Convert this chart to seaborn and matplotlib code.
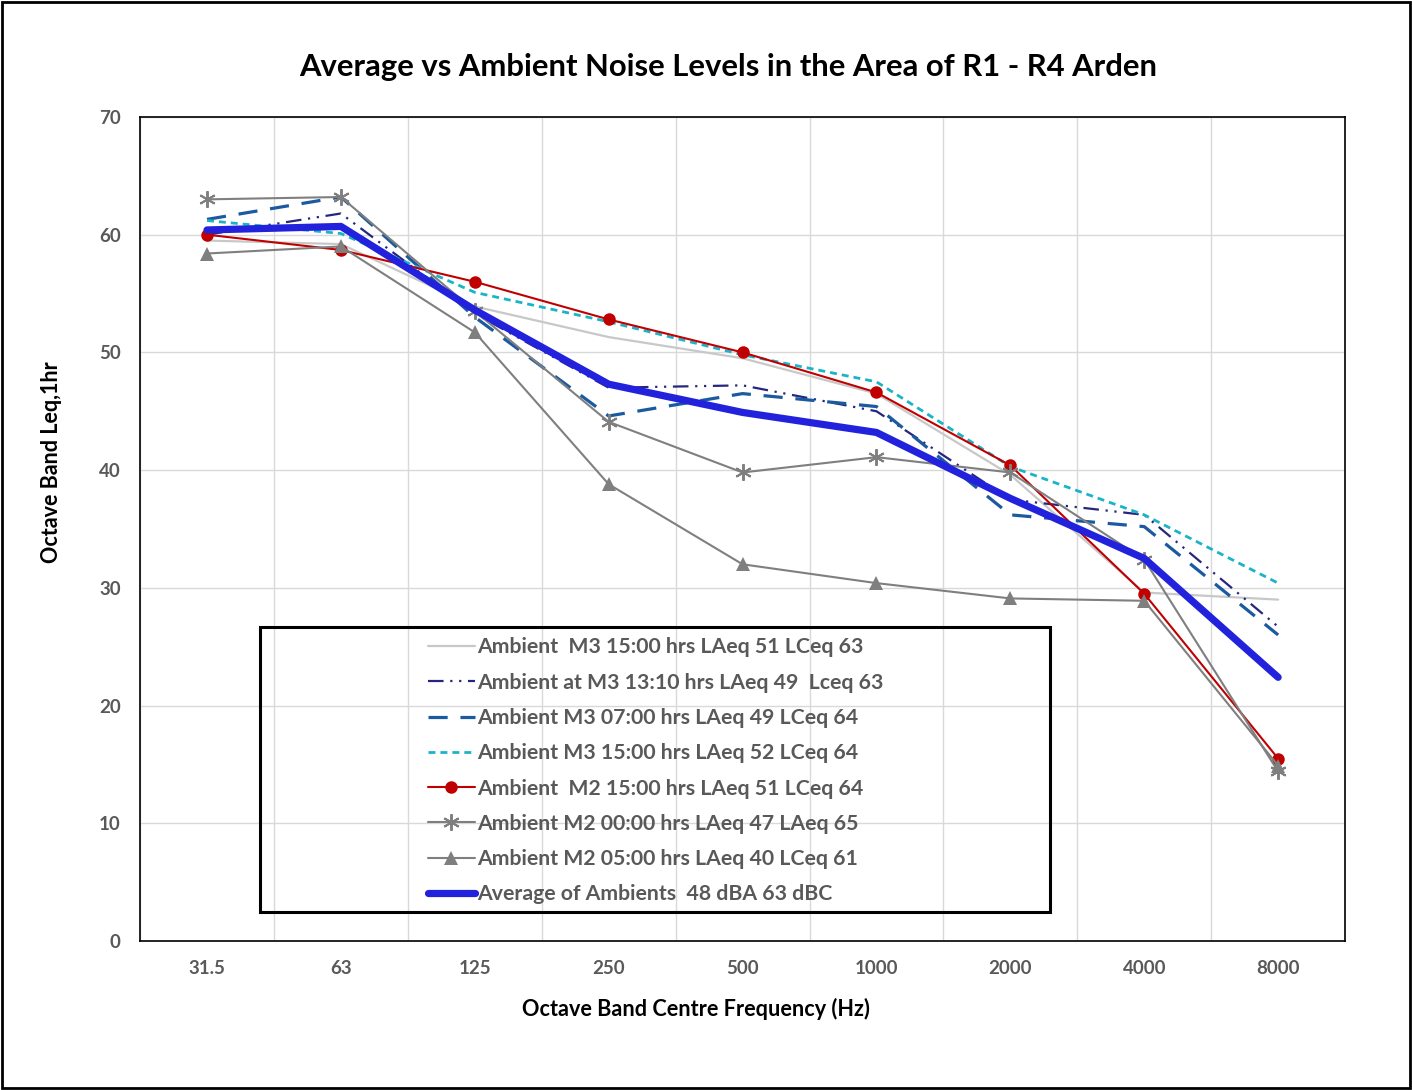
import numpy as np
import seaborn as sns
import matplotlib.pyplot as plt
from matplotlib.patches import Rectangle

# Octave band centre frequencies (x categories)
freqs = ['31.5', '63', '125', '250', '500', '1000', '2000', '4000', '8000']

# Levels (dB)
m3_1500_a = [59.5, 59.2, 53.9, 51.3, 49.5, 46.5, 39.6, 29.6, 29.0]
m3_1310 = [60.0, 61.8, 53.3, 47.0, 47.2, 45.0, 37.5, 36.2, 26.7]
m3_0700 = [61.3, 63.2, 53.0, 44.6, 46.5, 45.4, 36.2, 35.2, 26.0]
m3_1500_b = [61.2, 60.1, 55.1, 52.6, 49.8, 47.5, 40.3, 36.2, 30.4]
m2_1500 = [60.0, 58.7, 56.0, 52.8, 50.0, 46.6, 40.4, 29.5, 15.5]
m2_0000 = [63.0, 63.2, 53.5, 44.1, 39.8, 41.1, 39.8, 32.4, 14.4]
m2_0500 = [58.4, 59.0, 51.7, 38.8, 32.0, 30.4, 29.1, 28.9, 14.9]
average = [60.4, 60.7, 53.6, 47.3, 44.9, 43.2, 37.6, 32.5, 22.4]

labels = [
    'Ambient  M3 15:00 hrs LAeq 51 LCeq 63',
    'Ambient at M3 13:10 hrs LAeq 49  Lceq 63',
    'Ambient M3 07:00 hrs LAeq 49 LCeq 64',
    'Ambient M3 15:00 hrs LAeq 52 LCeq 64',
    'Ambient  M2 15:00 hrs LAeq 51 LCeq 64',
    'Ambient M2 00:00 hrs LAeq 47 LAeq 65',
    'Ambient M2 05:00 hrs LAeq 40 LCeq 61',
    'Average of Ambients  48 dBA 63 dBC',
]

sns.set_style('white')
plt.rcParams['font.family'] = ['Lato', 'DejaVu Sans']

fig = plt.figure(figsize=(14.12, 10.9), dpi=100)
ax = fig.add_axes([0.0992, 0.1367, 0.8534, 0.756])
x = np.arange(len(freqs))

common = dict(ax=ax, sort=False, errorbar=None)
sns.lineplot(x=x, y=m3_1500_a, color='#c8c8c8', linewidth=1.6, label=labels[0], **common)
sns.lineplot(x=x, y=m3_1310, color='#26267e', linewidth=1.6,
             linestyle=(0, (7, 3, 1, 3, 1, 3)), label=labels[1], **common)
sns.lineplot(x=x, y=m3_0700, color='#1b5aa0', linewidth=2.3,
             linestyle=(0, (6, 4)), label=labels[2], **common)
sns.lineplot(x=x, y=m3_1500_b, color='#1ab4c8', linewidth=2.0,
             linestyle=(0, (2.5, 1.8)), label=labels[3], **common)
sns.lineplot(x=x, y=m2_1500, color='#c00000', linewidth=1.5, marker='o',
             markersize=9, markeredgewidth=0, label=labels[4], **common)
sns.lineplot(x=x, y=m2_0000, color='#7f7f7f', linewidth=1.5, marker=(6, 2, 0),
             markersize=12, markeredgewidth=1.4, markeredgecolor='#7f7f7f',
             label=labels[5], **common)
sns.lineplot(x=x, y=m2_0500, color='#7f7f7f', linewidth=1.5, marker='^',
             markersize=10, markeredgewidth=0, label=labels[6], **common)
sns.lineplot(x=x, y=average, color='#2222dd', linewidth=5.2,
             solid_capstyle='round', label=labels[7], **common)

ax.set_xlim(-0.5, len(freqs) - 0.5)
ax.set_ylim(0, 70)
ax.set_xticks(x)
ax.set_xticklabels(freqs)
ax.set_xticks(np.arange(-0.5, len(freqs), 1), minor=True)
ax.set_yticks(np.arange(0, 71, 10))
ax.grid(False)
ax.grid(True, which='minor', axis='x', color='#d9d9d9', linewidth=1)
ax.grid(True, which='major', axis='y', color='#d9d9d9', linewidth=1)
ax.set_axisbelow(True)
ax.tick_params(which='both', length=0)
ax.tick_params(axis='x', pad=14)
ax.tick_params(axis='y', pad=14)
for lab in ax.get_xticklabels() + ax.get_yticklabels():
    lab.set_color('#595959')
    lab.set_fontweight('bold')
    lab.set_fontsize(13.5)
for sp in ax.spines.values():
    sp.set_color('black')
    sp.set_linewidth(1.2)
ax.set_xlabel('')
ax.set_ylabel('')

fig.text(0.5156, 0.9385, 'Average vs Ambient Noise Levels in the Area of R1 - R4 Arden',
         ha='center', va='center', fontsize=22.3, fontweight='bold', color='black')
fig.text(0.0365, 0.576, 'Octave Band Leq,1hr', rotation=90, ha='center', va='center',
         fontsize=15.5, fontweight='bold', color='black')
fig.text(0.493, 0.074, 'Octave Band Centre Frequency (Hz)', ha='center', va='center',
         fontsize=15.6, fontweight='bold', color='black')

leg = ax.legend(loc='upper left', bbox_to_anchor=(0.239, 0.3685), frameon=False,
                fontsize=15.3, handlelength=2.2, handletextpad=0.1,
                labelspacing=0.72, borderpad=0, borderaxespad=0)
for t in leg.get_texts():
    t.set_color('#595959')
    t.set_fontweight('bold')
ax.add_patch(Rectangle((0.0996, 0.0352), 0.6556, 0.3458, transform=ax.transAxes,
                       fill=False, edgecolor='black', linewidth=2.2, zorder=10,
                       clip_on=False))

fig.patches.append(Rectangle((0.0015, 0.002), 0.997, 0.996, transform=fig.transFigure,
                             fill=False, edgecolor='black', linewidth=2, figure=fig))

fig.savefig('out.png', dpi=100)
